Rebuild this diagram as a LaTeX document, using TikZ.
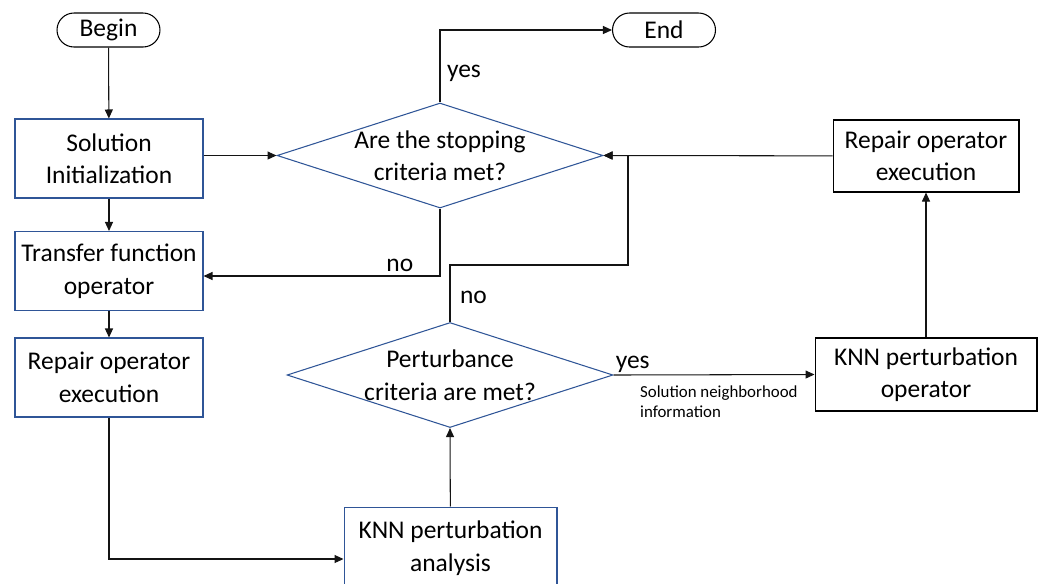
\documentclass[tikz,border=0pt]{standalone}
\usepackage{fontspec}
\setmainfont{Carlito}
\usepackage{xcolor}
\usepackage{tikz}
\usetikzlibrary{shapes.geometric, shapes.misc, arrows.meta, positioning, calc}
\definecolor{flowblue}{RGB}{47,85,151}
\definecolor{flowline}{RGB}{20,20,20}
\tikzset{
  term/.style={rounded rectangle, draw=black, semithick, fill=white,
               minimum width=2.06cm, minimum height=0.68cm, inner sep=0pt,
               font=\fontsize{14.5pt}{17pt}\selectfont},
  proc/.style={rectangle, draw=flowblue, semithick, fill=white, align=center,
               minimum width=3.76cm, minimum height=1.58cm, inner sep=2pt,
               font=\fontsize{14.5pt}{18.5pt}\selectfont},
  procb/.style={proc, draw=black},
  cond/.style={diamond, draw=flowblue, semithick, fill=white, align=center,
               aspect=3.1, inner sep=-3pt, minimum width=6.52cm, minimum height=2.1cm,
               font=\fontsize{14.5pt}{18.5pt}\selectfont},
  arr/.style={-{Triangle[length=1.8mm, width=1.6mm]}, semithick, draw=flowline},
  lbl/.style={font=\fontsize{14.5pt}{17pt}\selectfont, inner sep=2pt},
  note/.style={font=\fontsize{9.6pt}{11.5pt}\selectfont, align=left, inner sep=0pt},
}

\begin{document}
\begin{tikzpicture}[x=0.02cm, y=-0.02cm]

\useasboundingbox (0,0) rectangle (1043,583);

% ========== Start / stop ==========
\node[term] (begin) at (108.5, 30) {Begin};
\node[term] (end)   at (664, 30)   {End};

% ========== Left column ==========
\node[proc] (init)     at (109, 158.5) {Solution\\Initialization};
\node[proc] (transfer) at (109, 271)   {Transfer function\\operator};
\node[proc] (repairL)  at (109, 377.5) {Repair operator\\execution};

% ========== Decisions ==========
\node[cond] (stop)    at (440, 155.5) {Are the stopping\\criteria met?};
\node[cond] (perturb) at (450, 375)   {Perturbance\\criteria are met?};

% KNN analysis (cut by lower edge)
\node[proc, minimum width=4.26cm, minimum height=1.64cm] (analysis) at (450.5, 548) {KNN perturbation\\analysis};

% ========== Right column ==========
\node[procb, minimum width=3.72cm, minimum height=1.44cm] (repairR) at (926, 156)   {Repair operator\\execution};
\node[procb, minimum width=4.44cm, minimum height=1.46cm] (knnop)   at (926, 374.5) {KNN perturbation\\operator};

% return point of the "no" branch
\coordinate (back) at (628, 265);

% ========== Main flow ==========
\draw[arr] (begin) -- (init);
\draw[arr] (init) -- (transfer);
\draw[arr] (transfer) -- (repairL);
\draw[arr] (init.east |- stop.west) -- (stop.west);
\draw[arr] (repairL.south) |- ([yshift=-0.22cm]analysis.west);
\draw[arr] (analysis) -- (perturb.south);

% Stopping criteria
\draw[arr] (stop.north) |- node[lbl, right, pos=0.2, xshift=0.06cm] {yes} (end.west);
\draw[arr] (stop.south) |- node[lbl, above, pos=0.585] {no} ([yshift=-0.1cm]transfer.east);

% Perturbance criteria
\draw[arr] (perturb.north) |- node[lbl, right, pos=0.22, xshift=0.12cm] {no} (back) |- (stop.east);
\draw[arr] (perturb.east) -- node[lbl, pos=0, anchor=south west, inner sep=1pt] {yes}
  node[note, pos=0.13, anchor=north west, yshift=-0.2cm] {Solution neighborhood\\information} (knnop.west);

% Right loop
\draw[arr] (knnop) -- (repairR);
\draw[arr] (repairR) -- (stop.east);

\end{tikzpicture}
\end{document}
